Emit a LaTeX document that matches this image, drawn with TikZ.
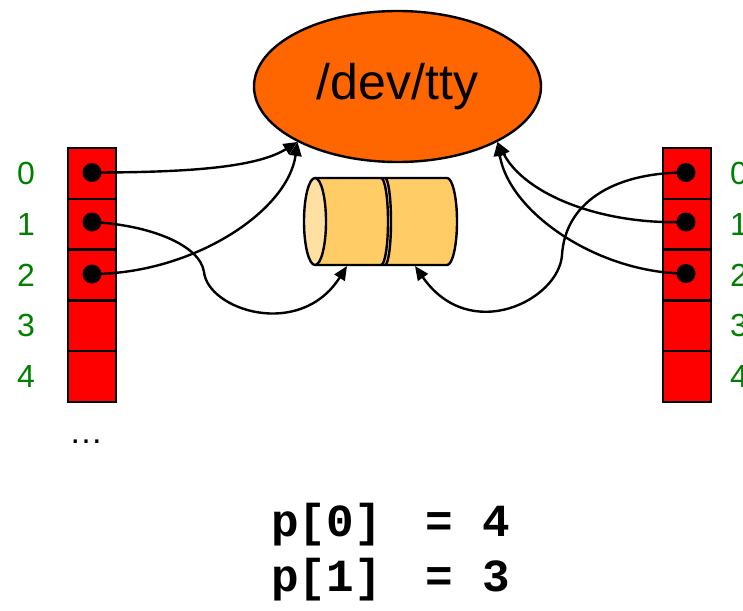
\documentclass[tikz,border=0pt]{standalone}
\usepackage{fontspec}
\setmainfont{Liberation Sans}
\newfontfamily\monob{Liberation Mono}
\usetikzlibrary{arrows.meta,shapes.geometric}
\definecolor{lbl}{RGB}{0,128,0}
\definecolor{ttyfill}{RGB}{255,102,0}
\definecolor{pipefill}{RGB}{255,204,102}
\definecolor{pipeend}{RGB}{255,224,163}
\begin{document}
\begin{tikzpicture}[x=1pt,y=-1pt,
  cell/.style={draw,line width=2.4pt,fill=red,minimum width=48pt,minimum height=50.8pt,inner sep=0pt,outer sep=0pt},
  fdot/.style={circle,fill=black,minimum size=19pt,inner sep=0pt},
  idx/.style={text=lbl,font=\fontsize{32}{38}\selectfont,inner sep=0pt},
  conn/.style={line width=2.4pt,-{Triangle[length=14pt,width=12pt]}},
  pipeline/.style={line width=2.4pt,line join=round}]
\useasboundingbox (0,0) rectangle (743,610);
\clip (0,0) rectangle (743,610);

% /dev/tty
\node[ellipse,draw,line width=2.4pt,fill=ttyfill,minimum width=287pt,minimum height=151pt,inner sep=0pt,
      font=\fontsize{50}{58}\selectfont] (tty) at (397.5,86.5) {/dev/tty};

% pipe
\fill[pipefill] (315,178) -- (447,178) arc(-90:90:10 and 43.5) -- (315,265) -- cycle;
\draw[pipeline] (315,178) -- (447,178) arc(-90:90:10 and 43.5) -- (315,265);
\draw[pipeline] (381,178) arc(-90:90:7 and 43.5);
\draw[pipeline] (385,178) arc(-90:90:6 and 43.5);
\filldraw[pipeline,fill=pipeend] (315,221.5) ellipse (11 and 43.5);
\coordinate (pa) at (347,266);
\coordinate (pb) at (415,266);

% tables
\foreach \i/\y in {0/173.4,1/224.2,2/275,3/325.8,4/376.6}{
  \node[cell] (L\i) at (92,\y) {};
  \node[idx] (li\i) at (26,\y) {\i};
  \node[cell] (R\i) at (687,\y) {};
  \node[idx] (ri\i) at (739,\y) {\i};
}
\node[font=\fontsize{34}{40}\selectfont,anchor=base,inner sep=0pt] (more) at (86,443) {…};

\node[fdot] (dl0) at (92,172.5) {};
\node[fdot] (dl1) at (92,222) {};
\node[fdot] (dl2) at (92,274) {};
\node[fdot] (dr0) at (686,172.5) {};
\node[fdot] (dr1) at (686,222) {};
\node[fdot] (dr2) at (686,273.5) {};

% left connectors
\draw[conn] (dl0.center) .. controls +(100,0) and +(-40,25) .. (tty.-151);
\draw[conn] (dl2.center) .. controls +(100,0) and +(-10,70) .. (tty.-151);
\draw[conn] (dl1.center) .. controls +(58,3) and (200,245) .. (204,272)
                         .. controls (208,310) and (300,340) .. (pa);
% right connectors
\draw[conn] (dr1.center) .. controls +(-86,3) and +(27,52) .. (tty.-29);
\draw[conn] (dr2.center) .. controls +(-86,0) and +(12,72) .. (tty.-29);
\draw[conn] (dr0.center) .. controls +(-76,0) and (565,205) .. (562,255)
                         .. controls (559,300) and (470,345) .. (pb);

% text
\node[font=\monob\bfseries\fontsize{46}{52}\selectfont,inner sep=0pt] (p0) at (391,525) {p[0] \hspace{0.34em}=\hspace{0.06em} 4};
\node[font=\monob\bfseries\fontsize{46}{52}\selectfont,inner sep=0pt] (p1) at (391,580) {p[1] \hspace{0.34em}=\hspace{0.06em} 3};
\end{tikzpicture}
\end{document}
